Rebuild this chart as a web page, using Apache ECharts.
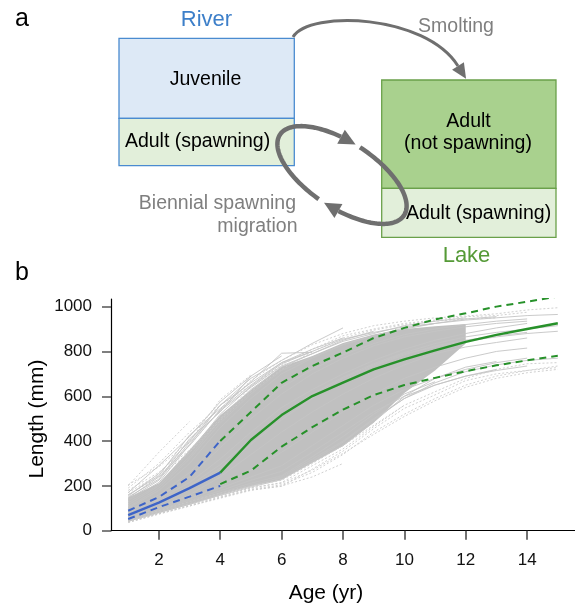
<!DOCTYPE html>
<html><head><meta charset="utf-8">
<script src="https://cdn.jsdelivr.net/npm/echarts@6/dist/echarts.min.js"></script>
<style>html,body{margin:0;padding:0;background:#fff}#c{width:575px;height:606px}</style>
</head><body><div id="c"></div>
<script>
// ---------- data ----------
const xTicks = [2, 4, 6, 8, 10, 12, 14];
const yTicks = [0, 200, 400, 600, 800, 1000];

const juvAges  = [1, 2, 3, 4];
const juvMean  = [70, 125, 190, 259];
const juvUpper = [89, 150, 240, 402];
const juvLower = [52, 105, 152, 200];

const adultAges  = [4, 5, 6, 7, 8, 9, 10, 11, 12, 13, 14, 15];
const adultMean  = [259, 405, 516, 601, 661, 720, 765, 805, 843, 874, 900, 926];
const adultUpper = [400, 530, 660, 735, 795, 860, 905, 943, 970, 1000, 1022, 1045];
const adultLower = [208, 268, 375, 462, 540, 605, 650, 682, 712, 738, 760, 781];

// dense core of individual growth trajectories (ages 1..12)
const bandAges  = [1, 2, 3, 4, 5, 6, 7, 8, 9, 10, 11, 12];
const bandLower = [42, 80, 117, 160, 198, 228, 303, 378, 482, 615, 715, 835];
const bandUpper = [148, 212, 360, 515, 628, 732, 780, 838, 876, 900, 912, 922];

// individual trajectories (length at age 1, 2, 3, ...)
const graySolidTracks = [
  [160, 245, 427, 545, 665, 792, 796],
  [150, 230, 410, 530, 690],
  [170, 290, 420, 575, 690, 780],
  [155, 255, 400, 560, 660, 750, 800],
  [145, 240, 380, 540, 650, 750, 810, 860],
  [140, 225, 395, 535, 640, 735, 790, 850, 890],
  [135, 215, 385, 560, 680, 760, 836, 905],
  [125, 205, 350, 520, 645, 745, 800, 855, 885, 910, 925],
  [115, 200, 330, 495, 630, 730, 790, 845, 880, 915, 935, 950],
  [105, 190, 320, 480, 610, 715, 775, 830, 870, 905, 925, 945, 955],
  [100, 180, 300, 460, 590, 700, 770, 830, 870, 900, 925, 940, 950, 960, 965],
  [90, 160, 260, 400, 530, 640, 720, 785, 835, 875, 900, 920, 935, 945],
  [85, 150, 240, 370, 500, 610, 700, 770, 825, 865, 890, 910, 925, 935],
  [80, 140, 215, 320, 440, 550, 630, 700, 760, 810, 850, 880, 905, 925],
  [72, 130, 200, 295, 410, 520, 610, 685, 745, 795, 835, 865, 885, 900, 915],
  [70, 125, 190, 280, 400, 510, 600, 680, 740, 790, 820, 845, 865, 880, 890],
  [65, 120, 185, 270, 385, 495, 590, 670, 735, 785, 825, 850, 870, 885],
  [58, 105, 160, 240, 340, 440, 530, 610, 680, 740, 790, 820, 840, 860],
  [50, 92, 140, 200, 270, 350, 440, 530, 610, 680, 730, 770, 800, 815],
  [44, 82, 120, 162, 205, 235, 310, 395, 495, 590, 650, 690, 720],
  [42, 80, 118, 158, 195, 228, 305, 380, 485, 600, 680, 730, 755],
  [46, 86, 124, 165, 200, 240, 320, 400, 500, 590, 660, 710, 740, 760, 770],
  [48, 88, 128, 170, 212, 245, 330, 420, 520, 610, 665],
  [55, 95, 135, 178, 225, 265, 350, 440, 530, 600, 650, 690, 715, 735],
  [60, 100, 145, 190, 240, 290, 380, 470, 560, 630, 680, 720, 750, 770]
];
const grayDottedTracks = [
  [200, 350, 487],
  [205, 285, 400, 585, 695],
  [190, 300, 440, 560, 650],
  [180, 260, 380, 540, 670, 760, 830, 880, 915, 935, 950, 958, 968, 985, 995],
  [170, 250, 360, 500, 640, 740, 810, 870, 900, 925, 940, 955, 960, 975],
  [160, 240, 350, 490, 620, 720, 800, 860, 895, 920, 935, 945, 950],
  [38, 75, 110, 148, 182, 198, 275, 355, 455, 546, 606, 670, 700, 715, 728],
  [40, 77, 113, 150, 185, 205, 260, 340, 440, 520, 590, 650, 690, 715, 735],
  [42, 80, 116, 155, 190, 215, 290, 365, 464, 560],
  [36, 74, 110, 145, 180, 200, 240, 300],
  [45, 82, 120, 158, 192, 212, 270, 345, 430, 510, 580, 640, 680, 705, 720],
  [50, 90, 130, 168, 200, 225, 300, 380, 470, 560, 620, 680, 720, 745, 750]
];

// ---------- styling ----------
const FONT = '"Liberation Sans", Arial, Helvetica, sans-serif';
const BLUE = '#3d64c8', GREEN = '#27912a', GRAYLINE = '#6f6f6f';
const pairs = (xs, ys) => ys.map((v, i) => [xs[i], v]);
const track = vals => vals.map((v, i) => [i + 1, v]);

// ---------- diagram geometry (panel a) ----------
function ellPt(tDeg) {
  const r = tDeg * Math.PI / 180, th = 33 * Math.PI / 180;
  const a = 74, b = 33, cx = 342, cy = 175;
  const u = a * Math.cos(r), v = b * Math.sin(r);
  return [cx + u * Math.cos(th) - v * Math.sin(th), cy + u * Math.sin(th) + v * Math.cos(th)];
}
function arcPts(t0, t1) {
  const pts = [], n = Math.ceil(Math.abs(t1 - t0) / 2);
  for (let i = 0; i <= n; i++) pts.push(ellPt(t0 + (t1 - t0) * i / n));
  return pts;
}
function arrowHead(base, tip, w) {
  const dx = tip[0] - base[0], dy = tip[1] - base[1], L = Math.hypot(dx, dy);
  const px = -dy / L * w / 2, py = dx / L * w / 2;
  return [tip, [base[0] + px, base[1] + py], [base[0] - px, base[1] - py]];
}
const smoltEnd = [458, 66], smoltC2 = [425, 14];
const sdx = smoltEnd[0] - smoltC2[0], sdy = smoltEnd[1] - smoltC2[1], sL = Math.hypot(sdx, sdy);
const smoltTip = [smoltEnd[0] + sdx / sL * 15, smoltEnd[1] + sdy / sL * 15];

function txt(text, x, y, size, color, align, extra) {
  return Object.assign({
    type: 'text', x: x, y: y, z: 20,
    style: { text: text, fill: color, font: size + 'px ' + FONT, fontSize: size, fontFamily: FONT,
             align: align || 'center', verticalAlign: 'middle' }
  }, extra || {});
}
function box(x, y, w, h, fill, stroke) {
  return { type: 'rect', z: 5, shape: { x: x, y: y, width: w, height: h },
           style: { fill: fill, stroke: stroke, lineWidth: 1.3 } };
}

const graphics = [
  txt('a', 15, 19, 25, '#000', 'left'),
  txt('b', 15, 273, 25, '#000', 'left'),
  box(119, 38.3, 175.3, 80, '#dde9f6', '#4a8bd0'),
  box(119, 118.3, 175.3, 47.4, '#e2efda', '#4a8bd0'),
  box(381.7, 80, 174.3, 108.3, '#a9d18e', '#6aa04a'),
  box(381.7, 188.3, 174.3, 49, '#e2efda', '#6aa04a'),
  // smolting arrow
  { type: 'bezierCurve', z: 10,
    shape: { x1: 293, y1: 37, cpx1: 310, cpy1: 10, cpx2: smoltC2[0], cpy2: smoltC2[1], x2: smoltEnd[0], y2: smoltEnd[1] },
    style: { stroke: GRAYLINE, lineWidth: 3, fill: null } },
  { type: 'polygon', z: 10, shape: { points: arrowHead(smoltEnd, smoltTip, 14) }, style: { fill: GRAYLINE } },
  // spawning migration loop
  { type: 'polyline', z: 10, shape: { points: arcPts(95, 253) }, style: { stroke: GRAYLINE, lineWidth: 4.5, fill: null } },
  { type: 'polygon', z: 10, shape: { points: arrowHead(ellPt(253), ellPt(266), 16) }, style: { fill: GRAYLINE } },
  { type: 'polyline', z: 10, shape: { points: arcPts(270, 437) }, style: { stroke: GRAYLINE, lineWidth: 4.5, fill: null } },
  { type: 'polygon', z: 10, shape: { points: arrowHead(ellPt(437), ellPt(450), 16) }, style: { fill: GRAYLINE } },
  // labels
  txt('River', 206.5, 20, 22, '#3d7fc9'),
  txt('Juvenile', 205.5, 80, 19.5, '#000'),
  txt('Adult (spawning)', 197.5, 142, 19.5, '#000'),
  txt('Smolting', 456, 27, 19.5, '#7f7f7f'),
  txt('Adult', 468.5, 122, 19.5, '#000'),
  txt('(not spawning)', 468, 144, 19.5, '#000'),
  txt('Adult (spawning)', 478.5, 213.5, 19.5, '#000'),
  txt('Lake', 466.5, 256, 22, '#559a37'),
  txt('Biennial spawning', 296, 204, 19.5, '#7f7f7f', 'right'),
  txt('migration', 297.5, 226.5, 19.5, '#7f7f7f', 'right'),
  // axis titles
  txt('Length (mm)', 37, 419, 21, '#000', 'center', { rotation: Math.PI / 2 }),
  txt('Age (yr)', 326, 593, 21, '#000')
];

// ---------- series ----------
const series = [];
series.push({
  type: 'custom', silent: true, clip: true, z: 1,
  data: [0],
  renderItem: function (params, api) {
    const pts = [];
    bandAges.forEach((a, i) => pts.push(api.coord([a, bandUpper[i]])));
    for (let i = bandAges.length - 1; i >= 0; i--) pts.push(api.coord([bandAges[i], bandLower[i]]));
    return { type: 'polygon', shape: { points: pts }, style: { fill: '#c0c0c0' } };
  }
});
graySolidTracks.forEach(t => series.push({
  type: 'line', data: track(t), symbol: 'none', silent: true, z: 2,
  lineStyle: { color: '#c4c4c4', width: 0.9 }
}));
grayDottedTracks.forEach(t => series.push({
  type: 'line', data: track(t), symbol: 'none', silent: true, z: 2,
  lineStyle: { color: '#cbcbcb', width: 0.9, type: [2, 2] }
}));
function mainLine(xs, ys, color, dashed) {
  return { type: 'line', data: pairs(xs, ys), symbol: 'none', silent: true, z: 5, clip: true,
           lineStyle: { color: color, width: dashed ? 2 : 2.4, type: dashed ? [7, 5] : 'solid' } };
}
series.push(mainLine(juvAges, juvUpper, BLUE, true));
series.push(mainLine(juvAges, juvLower, BLUE, true));
series.push(mainLine(juvAges, juvMean, BLUE, false));
series.push(mainLine(adultAges, adultUpper, GREEN, true));
series.push(mainLine(adultAges, adultLower, GREEN, true));
series.push(mainLine(adultAges, adultMean, GREEN, false));

const chart = echarts.init(document.getElementById('c'));
chart.setOption({
  animation: false,
  backgroundColor: '#fff',
  grid: { left: 111, right: 0, top: 299, bottom: 75.3 },
  xAxis: {
    type: 'value', min: 0.44, max: 15.56,
    axisLine: { show: true, lineStyle: { color: '#000', width: 1.2 } },
    axisTick: { show: true, customValues: xTicks, length: 9, lineStyle: { color: '#444', width: 1.5 } },
    axisLabel: { customValues: xTicks, fontSize: 17, color: '#111', margin: 21, fontFamily: FONT,
                 formatter: v => String(v) },
    splitLine: { show: false }
  },
  yAxis: {
    type: 'value', min: 0, max: 1034,
    axisLine: { show: true, lineStyle: { color: '#000', width: 1.2 } },
    axisTick: { show: true, customValues: yTicks, length: 9, lineStyle: { color: '#555', width: 1.5 } },
    axisLabel: { customValues: yTicks, fontSize: 17, color: '#111', margin: 19, fontFamily: FONT,
                 formatter: v => String(v) },
    splitLine: { show: false }
  },
  graphic: graphics,
  series: series
});
</script>
</body></html>
